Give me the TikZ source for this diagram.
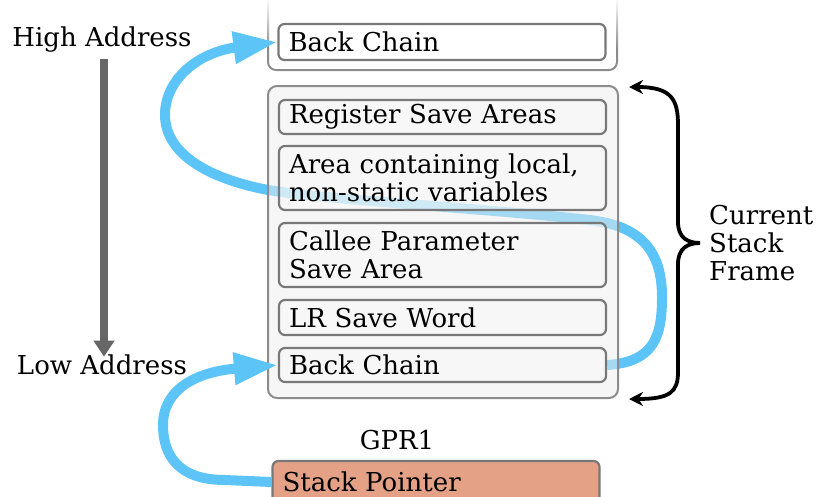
\documentclass[tikz,border=0pt]{standalone}
\usepackage{fontspec}
\setmainfont{DejaVu Serif}
\usetikzlibrary{arrows.meta,fadings}
\definecolor{sky}{RGB}{92,196,246}
\definecolor{salmon}{RGB}{228,161,133}
\definecolor{arrgray}{RGB}{102,102,102}
\definecolor{boxline}{RGB}{120,120,120}
\tikzfading[name=fadetop, top color=transparent!0, bottom color=transparent!100]
\pgfdeclarelayer{back}
\pgfdeclarelayer{mid}
\pgfsetlayers{back,mid,main}
\begin{document}
\begin{tikzpicture}[x=1pt,y=-1pt,
  every node/.style={font=\fontsize{26}{28}\selectfont},
  slot/.style={draw=boxline, line width=2.2pt, rounded corners=6pt, fill=gray!5,
    fill opacity=0.5, text opacity=1, minimum width=327pt, text width=307pt,
    align=left, inner xsep=10pt, inner ysep=0pt},
  frame/.style={draw=boxline!85, line width=2pt, rounded corners=9pt, fill=gray!13,
    fill opacity=0.5, minimum width=350pt, minimum height=312pt},
  lbl/.style={inner sep=0pt},
  flow/.style={draw=sky, line width=10pt, -{Triangle[length=44pt,width=30pt]}},
  addr/.style={draw=arrgray, line width=8pt, -{Triangle[length=16pt,width=20pt]}},
  brace/.style={line width=3.8pt, {Stealth[length=14pt,width=14pt]}-{Stealth[length=14pt,width=14pt]}},
  ]
\useasboundingbox (0,0) rectangle (817,496);

% previous frame (cut off at top)
\begin{pgfonlayer}{back}
\draw[draw=boxline!85, line width=2pt, rounded corners=8pt] (268,-5) -- (268,70) -- (617,70) -- (617,-5);
\fill[white, path fading=fadetop] (262,-2) rectangle (623,48);
\end{pgfonlayer}
\node[slot, fill=white, fill opacity=1, minimum height=36pt] (bc1) at (442,42) {Back Chain};

% current frame
\node[frame] (frame) at (443,242) {};
\node[slot, minimum height=34pt] (rsa) at (442.5,117) {Register Save Areas};
\node[slot, minimum height=64pt] (acl) at (442.5,178) {Area containing local,\\non-static variables};
\node[slot, minimum height=64pt] (cps) at (442.5,255) {Callee Parameter\\Save Area};
\node[slot, minimum height=35pt] (lr) at (442.5,317.5) {LR Save Word};
\node[slot, minimum height=34pt] (bc2) at (442.5,365) {Back Chain};

% stack pointer
\node[lbl] (gpr) at (397,440) {GPR1};
\node[slot, fill=salmon, fill opacity=1, minimum width=326pt, minimum height=42pt] (sp) at (436,482) {Stack Pointer};

% address labels
\node[lbl] (high) at (102,40) {High Address};
\node[lbl] (low) at (102,365) {Low Address};
\draw[addr, shorten <=6pt, shorten >=-2pt] ([xshift=2pt]high.south) -- ([xshift=2pt]low.north);

% back chain arrows
\begin{pgfonlayer}{mid}
\draw[flow] (bc2.east) .. controls (655,362) and (662,335) .. (662,297)
  .. controls (662,250) and (640,226) .. (590,220)
  .. controls (480,208) and (330,200) .. (268,190)
  .. controls (205,178) and (165,152) .. (165,115)
  .. controls (165,78) and (200,52) .. (bc1.west);
\end{pgfonlayer}
\draw[flow] (sp.west) -- (225,480) .. controls (178,480) and (163,455) .. (163,425)
  .. controls (163,390) and (195,372) .. (bc2.west);

% brace
\coordinate (bt) at (629,87);
\coordinate (bb) at (629,399);
\draw[brace] (bt) .. controls (672,87) and (678,100) .. (678,125) -- (678,222)
  .. controls (678,238) and (688,243) .. (700,243)
  .. controls (688,243) and (678,248) .. (678,264) -- (678,372)
  .. controls (678,392) and (670,399) .. (bb);
\node[lbl, align=left, anchor=west] (csf) at (709,243) {Current\\Stack\\Frame};
\end{tikzpicture}
\end{document}
